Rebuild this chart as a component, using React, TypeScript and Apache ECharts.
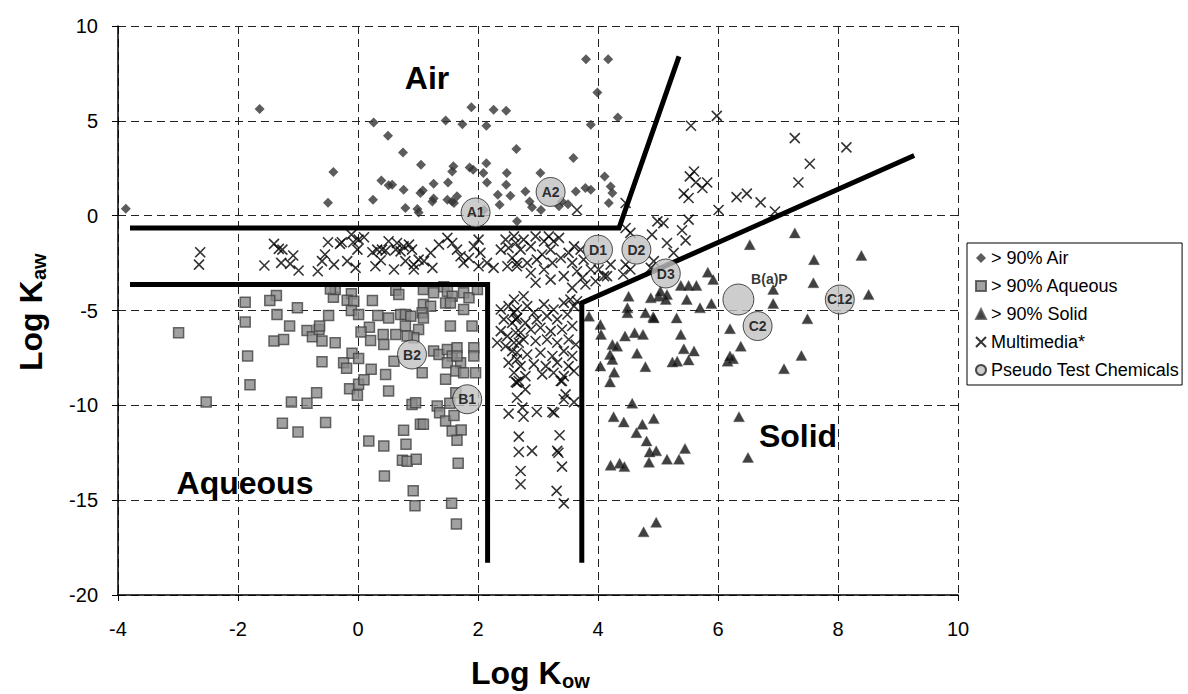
import React, { useEffect, useRef } from "react";
import * as echarts from "echarts";

const FONT = 'Arial, "Liberation Sans", Helvetica, sans-serif';

// x = Log Kow, y = Log Kaw
const airPoints: [number, number][] = [
  [-3.87, 0.37], [-1.64, 5.62], [0.26, 4.91], [0.5, 4.21], [-0.41, 2.3], [0.39, 1.86], [0.51, 1.6], [-0.5, 0.68], [0.25, 0.84],
  [3.8, 8.25], [4.17, 8.25], [3.99, 6.49], [3.88, 4.79], [4.33, 5.17], [1.89, 5.72], [2.26, 5.58], [2.47, 5.53], [1.46, 5.02],
  [1.74, 4.82], [2.14, 4.74], [0.75, 3.33], [2.64, 3.51], [3.59, 3.04], [1.05, 2.68], [1.59, 2.6], [1.57, 2.33], [1.86, 2.54],
  [1.92, 2.42], [2.14, 2.77], [2.09, 2.25], [2.15, 1.75], [2.48, 2.25], [2.47, 1.63], [3.04, 2.25], [4.11, 2.07], [0.57, 1.63],
  [0.76, 1.37], [1.26, 1.68], [1.5, 1.75], [1.04, 1.19], [1.08, 1.33], [1.24, 0.75], [1.26, 0.9], [1.49, 0.84], [1.57, 0.75],
  [1.65, 1.02], [2.33, 1.1], [2.54, 1.05], [2.36, 0.58], [2.79, 1.28], [2.86, 0.75], [3.63, 1.28], [3.79, 1.46], [3.88, 1.37],
  [4.21, 1.54], [4.24, 1.19], [4.18, 0.67], [0.79, 0.4], [0.99, 0.35], [1.01, 0.17], [1.6, 0.67], [3.35, 0.49], [3.4, 0.75],
  [2.65, -0.3], [2.9, 0.45], [3.05, 0.3], [3.5, 0.6], [2.1, 0.3]
];

const aqueousPoints: [number, number][] = [
  [-1.36, -4.21], [-1.47, -4.47], [-1.88, -4.56], [-1.01, -4.86], [-1.35, -5.21], [-1.88, -5.61], [-1.14, -5.82], [-2.99, -6.17],
  [-1.4, -6.61], [-1.24, -6.53], [-0.85, -6.05], [-0.76, -6.39], [-0.65, -6.0], [-0.64, -5.82], [-0.6, -6.61], [-0.38, -6.7],
  [-0.49, -5.26], [-0.41, -4.3], [-0.38, -3.89], [-0.46, -3.86], [-0.11, -4.12], [-0.18, -4.46], [-0.07, -4.51], [-0.11, -5.0],
  [0.01, -5.21], [0.24, -4.47], [0.33, -5.26], [0.51, -5.39], [0.19, -5.88], [0.05, -6.14], [0.21, -6.58], [0.42, -6.26],
  [0.43, -6.79], [-1.84, -7.4], [-0.6, -7.7], [-0.24, -7.75], [-0.19, -8.05], [-0.1, -7.26], [0.01, -7.53], [0.22, -8.1],
  [0.46, -8.37], [-1.8, -8.92], [-0.14, -9.12], [0.01, -8.89], [0.1, -8.65], [-0.01, -9.47], [-2.53, -9.82], [-1.11, -9.82],
  [-0.85, -9.89], [-0.69, -9.33], [-1.26, -10.95], [-1.0, -11.4], [-0.54, -10.91], [0.18, -11.88], [0.43, -12.14], [0.44, -13.72],
  [0.51, -9.25], [0.9, -9.95], [0.96, -9.86], [1.32, -10.04], [1.36, -10.39], [1.46, -10.83], [1.53, -9.89], [1.6, -10.53],
  [1.63, -9.33], [1.46, -8.63], [1.04, -11.0], [1.09, -11.0], [0.76, -11.32], [1.57, -11.35], [1.72, -11.3], [1.65, -11.84],
  [0.8, -12.05], [0.74, -12.89], [0.82, -12.95], [0.97, -12.84], [1.67, -13.05], [0.92, -14.51], [0.95, -15.3], [1.56, -15.16],
  [1.64, -16.26], [0.63, -3.93], [0.68, -4.16], [1.09, -3.89], [1.26, -4.07], [1.09, -4.68], [1.21, -4.77], [1.43, -3.75],
  [1.49, -3.98], [1.57, -4.25], [1.46, -4.6], [1.54, -4.6], [1.76, -4.07], [1.85, -4.33], [1.99, -3.89], [1.76, -4.95],
  [1.07, -5.12], [1.09, -5.39], [0.71, -5.21], [0.79, -5.21], [0.88, -5.3], [0.79, -5.82], [1.54, -5.82], [1.9, -5.82],
  [1.01, -6.0], [0.93, -6.44], [0.82, -6.35], [0.63, -6.26], [0.6, -7.67], [1.26, -7.14], [1.35, -7.32], [1.49, -7.05],
  [1.57, -7.4], [1.65, -6.96], [1.71, -7.75], [1.93, -6.96], [1.93, -7.4], [1.49, -7.75], [1.63, -8.19], [1.76, -8.28],
  [1.96, -8.28], [1.07, -8.28], [1.65, -7.4]
];

const solidPoints: [number, number][] = [
  [4.51, -4.25], [4.88, -4.33], [5.01, -4.25], [4.49, -4.86], [4.49, -5.12], [4.79, -5.12], [4.92, -5.33], [3.85, -5.3],
  [4.04, -5.74], [4.05, -6.26], [4.45, -6.35], [4.61, -6.17], [4.75, -6.26], [4.24, -6.79], [4.32, -6.88], [4.2, -7.32],
  [4.24, -7.58], [4.65, -7.26], [4.04, -7.93], [4.79, -7.96], [4.27, -8.25], [4.2, -8.77],
  [7.28, -0.91], [6.53, -1.53], [7.6, -2.32], [8.39, -2.1], [5.83, -2.98], [5.92, -3.37], [7.59, -3.54], [8.51, -4.16],
  [6.92, -3.89], [6.92, -4.63], [5.38, -3.68], [5.51, -3.68], [5.64, -3.68], [5.04, -3.98], [5.15, -4.16], [5.13, -4.42],
  [5.48, -4.42], [5.7, -4.86], [5.89, -4.63], [4.93, -5.39], [5.31, -5.39], [7.49, -5.44], [6.2, -5.96], [5.38, -6.26],
  [6.38, -6.88], [5.43, -7.02], [5.6, -7.14], [7.39, -7.37], [5.24, -7.72], [5.32, -7.67], [5.51, -7.61], [6.16, -7.67],
  [6.25, -7.54], [6.2, -7.4], [7.1, -8.07],
  [4.57, -9.89], [4.26, -10.6], [4.43, -10.88], [4.74, -11.0], [4.93, -10.7], [4.64, -11.44], [4.81, -11.88], [4.86, -12.46],
  [4.97, -12.4], [4.85, -13.0], [4.21, -13.16], [4.36, -13.05], [4.44, -13.23], [4.76, -16.67], [4.97, -16.17], [5.15, -12.84],
  [5.35, -12.84], [5.45, -12.28], [6.35, -10.6], [6.5, -12.75]
];

const multimediaPoints: [number, number][] = [
  [-2.63, -1.93], [-2.65, -2.58], [-1.4, -1.49], [-1.32, -1.75], [-1.26, -1.79], [-1.56, -2.63], [-1.28, -2.49], [-1.13, -2.54],
  [-1.08, -2.1], [-0.99, -2.89], [-0.5, -1.4], [-0.3, -1.49], [-0.27, -1.4], [-0.55, -2.05], [-0.6, -2.4], [-0.67, -2.93],
  [-0.4, -2.58], [-0.11, -1.0], [-0.08, -1.4], [0.01, -1.26], [0.1, -1.14], [-0.01, -1.79], [-0.18, -2.4], [-0.04, -2.75],
  [0.24, -1.93], [0.32, -1.79], [0.46, -1.84], [0.29, -2.67], [0.38, -2.35],
  [0.4, -1.79], [0.51, -1.35], [0.63, -1.79], [0.65, -1.44], [0.71, -1.88], [0.76, -1.62], [0.85, -1.53], [0.9, -1.79],
  [0.6, -2.84], [0.79, -2.4], [0.93, -2.58], [1.01, -2.32], [1.1, -2.4], [0.93, -2.84], [1.24, -2.75], [1.21, -1.96],
  [1.35, -1.53], [1.49, -1.17], [1.57, -1.44], [1.65, -1.79], [1.71, -2.14], [1.76, -2.49], [1.85, -2.23], [1.93, -1.62],
  [2.01, -1.26], [2.04, -1.96], [2.01, -2.67], [2.15, -2.49], [2.26, -2.75], [2.38, -1.79], [2.46, -1.26], [2.51, -1.7],
  [2.57, -2.23], [2.49, -2.67], [2.63, -1.44], [2.65, -2.49],
  [2.38, -4.95], [2.51, -4.77], [2.6, -5.12], [2.43, -5.47], [2.57, -5.65], [2.65, -5.39], [2.38, -6.09], [2.49, -6.35],
  [2.63, -6.17], [2.32, -6.7], [2.46, -6.88], [2.57, -7.14], [2.68, -6.7], [2.51, -7.75], [2.65, -7.58], [2.6, -8.28], [2.68, -8.72],
  [2.6, -1.09], [2.76, -1.26], [2.71, -1.79], [2.88, -1.62], [2.96, -1.09], [3.1, -1.35], [3.18, -1.09], [3.26, -1.35],
  [3.35, -1.17], [3.21, -1.79], [3.07, -2.05], [2.98, -2.32], [2.82, -2.49], [2.65, -2.67], [2.88, -3.02], [3.1, -2.84],
  [3.24, -2.49], [3.38, -2.23], [3.51, -1.96], [3.6, -1.62], [3.71, -1.79], [3.57, -2.49], [3.43, -3.19], [3.21, -3.37],
  [2.96, -3.54], [3.76, -2.32], [3.88, -2.84], [3.65, -2.93], [4.01, -2.84], [4.15, -3.19], [3.96, -3.46], [3.79, -3.63],
  [3.57, -3.81], [3.74, -3.28],
  [2.6, -4.42], [2.76, -4.25], [2.65, -4.95], [2.82, -4.77], [2.93, -5.12], [3.1, -4.68], [3.26, -4.95], [3.43, -4.6],
  [3.54, -4.42], [3.65, -4.51], [3.6, -4.77], [2.63, -5.47], [2.79, -5.65], [2.98, -5.47], [3.15, -5.3], [3.32, -5.47],
  [3.49, -5.21], [2.71, -6.17], [2.88, -6.0], [3.04, -5.91], [3.21, -6.09], [3.4, -6.0], [3.57, -5.82], [2.6, -6.7],
  [2.76, -6.53], [2.96, -6.61], [3.15, -6.53], [3.32, -6.7], [3.51, -6.53], [3.63, -6.79], [2.65, -7.23], [2.82, -7.32],
  [3.04, -7.23], [3.24, -7.4], [3.43, -7.14], [3.57, -7.4], [2.71, -7.93], [2.93, -7.84], [3.13, -7.93], [3.32, -7.75],
  [3.51, -7.93], [2.79, -8.46], [3.07, -8.37], [3.26, -8.28], [3.43, -8.46], [3.6, -8.19], [2.65, -8.8], [3.38, -8.72],
  [2.63, -8.77], [2.79, -9.16], [2.65, -9.6], [2.74, -10.12], [2.51, -10.44], [2.76, -10.6], [2.98, -10.35], [3.24, -10.35],
  [3.27, -10.39], [3.4, -8.72], [3.46, -9.42], [3.43, -9.68], [3.6, -9.83], [2.68, -11.65], [3.36, -11.58], [2.68, -12.46],
  [2.9, -12.4], [3.32, -12.4], [3.34, -12.5], [3.4, -13.23], [2.71, -13.46], [2.71, -14.16], [3.31, -14.51], [3.43, -15.17],
  [5.98, 5.26], [5.55, 4.74], [7.28, 4.09], [8.14, 3.6], [7.53, 2.74], [7.34, 1.75], [5.6, 2.33], [5.53, 2.07], [5.63, 1.75],
  [5.82, 1.75], [5.74, 1.46], [5.43, 1.16], [5.51, 0.93], [6.31, 0.98], [6.48, 1.16], [6.71, 0.7], [6.01, 0.3], [6.95, 0.22],
  [4.46, 0.67], [3.65, 0.3], [5.09, -0.39], [5.51, -0.21], [5.4, -0.77], [4.9, -1.0], [5.15, -1.44], [5.46, -1.3],
  [5.26, -1.96], [4.99, -0.3], [4.46, -0.65], [4.54, -0.91], [4.93, -2.4], [4.88, -2.75], [4.46, -2.58], [4.54, -2.84],
  [4.42, -3.1], [4.21, -2.58], [4.1, -3.19]
];

const pseudoNames: string[] = ["A1", "A2", "B2", "B1", "D1", "D2", "D3", "B(a)P", "C2", "C12"];
const pseudoKow: number[] = [1.96, 3.21, 0.9, 1.82, 4.0, 4.64, 5.13, 6.34, 6.66, 8.03];
const pseudoKaw: number[] = [0.17, 1.25, -7.32, -9.68, -1.79, -1.79, -3.05, -4.42, -5.82, -4.42];

// region boundary lines (Log Kow, Log Kaw)
const airBoundary: [number, number][] = [[-3.8, -0.65], [4.35, -0.65], [5.35, 8.4]];
const aqueousBoundary: [number, number][] = [[-3.8, -3.63], [2.16, -3.63], [2.16, -18.3]];
const solidBoundary: [number, number][] = [[3.73, -18.3], [3.73, -4.6], [9.27, 3.17]];

const xTicks = { min: -4, max: 10, interval: 2 };
const yTicks = { min: -20, max: 10, interval: 5 };

const seriesNames = ["> 90% Air", "> 90% Aqueous", "> 90% Solid", "Multimedia*", "Pseudo Test Chemicals"];

const X_SYMBOL = "path://M0,0L10,10M0,10L10,0";

export default function App() {
  const ref = useRef<HTMLDivElement>(null);
  useEffect(() => {
    if (!ref.current) return;
    const chart = echarts.init(ref.current, undefined, { renderer: "svg" });
    const axisCommon = {
      type: "value" as const,
      axisLine: { show: true, onZero: false, lineStyle: { color: "#000", width: 1.5 } },
      axisTick: { show: true, length: 6, lineStyle: { color: "#000", width: 1 } },
      splitLine: { show: true, lineStyle: { color: "#222", type: [8, 5], width: 1 } },
    };
    const pseudoData = pseudoNames.map((n, i) => {
      const item: any = { name: n, value: [pseudoKow[i], pseudoKaw[i]] };
      if (n === "B(a)P") {
        item.symbolSize = 31;
        item.label = { offset: [31, -20] };
      }
      return item;
    });
    const boundaryLine = (name: string, data: [number, number][]) => ({
      type: "line",
      name,
      data,
      symbol: "none",
      silent: true,
      z: 3,
      lineStyle: { color: "#000", width: 5, cap: "butt", join: "miter" },
    });
    const textStyle = (text: string, size: number, align: string) => ({
      text, fontSize: size, fontWeight: "bold", fontFamily: FONT, fill: "#000",
      textAlign: align, textVerticalAlign: "middle", align, verticalAlign: "middle",
    });
    chart.setOption({
      animation: false,
      backgroundColor: "#fff",
      grid: { left: 118, right: 230, top: 26, bottom: 99, containLabel: false },
      xAxis: {
        ...axisCommon,
        ...xTicks,
        axisLabel: { fontSize: 20, color: "#000", fontFamily: FONT, margin: 24 },
      },
      yAxis: {
        ...axisCommon,
        ...yTicks,
        axisLabel: { fontSize: 20, color: "#000", fontFamily: FONT, margin: 20 },
      },
      legend: {
        orient: "vertical",
        left: 967,
        top: 243,
        padding: [6, 3, 6, 8],
        itemGap: 10,
        itemWidth: 10,
        itemHeight: 10,
        borderColor: "#000",
        borderWidth: 1,
        backgroundColor: "#fff",
        textStyle: { fontSize: 18, color: "#000", fontFamily: FONT },
        data: [
          { name: seriesNames[0], icon: "diamond" },
          { name: seriesNames[1], icon: "rect" },
          { name: seriesNames[2], icon: "triangle" },
          { name: seriesNames[3], icon: X_SYMBOL },
          { name: seriesNames[4], icon: "circle" },
        ],
      },
      series: [
        {
          type: "scatter", name: seriesNames[0], data: airPoints, symbol: "diamond", symbolSize: 10,
          itemStyle: { color: "#333" }, z: 2,
        },
        {
          type: "scatter", name: seriesNames[1], data: aqueousPoints, symbol: "rect", symbolSize: 10,
          itemStyle: { color: "#8a8a8a", borderColor: "#444", borderWidth: 1.5 }, z: 2,
        },
        {
          type: "scatter", name: seriesNames[2], data: solidPoints, symbol: "triangle", symbolSize: [11, 10],
          itemStyle: { color: "#111", borderColor: "#555", borderWidth: 0.5 }, z: 2,
        },
        {
          type: "scatter", name: seriesNames[3], data: multimediaPoints, symbol: X_SYMBOL, symbolSize: 10,
          itemStyle: { color: "transparent", borderColor: "#000", borderWidth: 1.6 }, z: 2,
        },
        boundaryLine("airBoundary", airBoundary),
        boundaryLine("aqueousBoundary", aqueousBoundary),
        boundaryLine("solidBoundary", solidBoundary),
        {
          type: "scatter", name: seriesNames[4], data: pseudoData, symbol: "circle", symbolSize: 29,
          itemStyle: { color: "#c0c0c0", borderColor: "#222", borderWidth: 1 }, z: 4,
          label: {
            show: true, position: "inside", formatter: "{b}", fontWeight: "bold", fontSize: 14,
            color: "#000", fontFamily: FONT,
          },
        },
      ],
      graphic: [
        { type: "text", x: 427, y: 78, style: textStyle("Air", 32, "center") },
        { type: "text", x: 245, y: 483, style: textStyle("Aqueous", 32, "center") },
        { type: "text", x: 798, y: 436, style: textStyle("Solid", 32, "center") },
        {
          type: "group", x: 471, y: 673,
          children: [
            { type: "text", x: 0, y: 0, style: textStyle("Log K", 32, "left") },
            { type: "text", x: 91, y: 8, style: textStyle("ow", 20, "left") },
          ],
        },
        {
          type: "group", x: 31, y: 312, rotation: Math.PI / 2,
          children: [
            { type: "text", x: -59, y: 0, style: textStyle("Log K", 32, "left") },
            { type: "text", x: 32, y: 8, style: textStyle("aw", 20, "left") },
          ],
        },
      ],
    });
    return () => chart.dispose();
  }, []);
  return <div ref={ref} style={{ position: "absolute", left: 0, top: 0, width: 1188, height: 694 }} />;
}
